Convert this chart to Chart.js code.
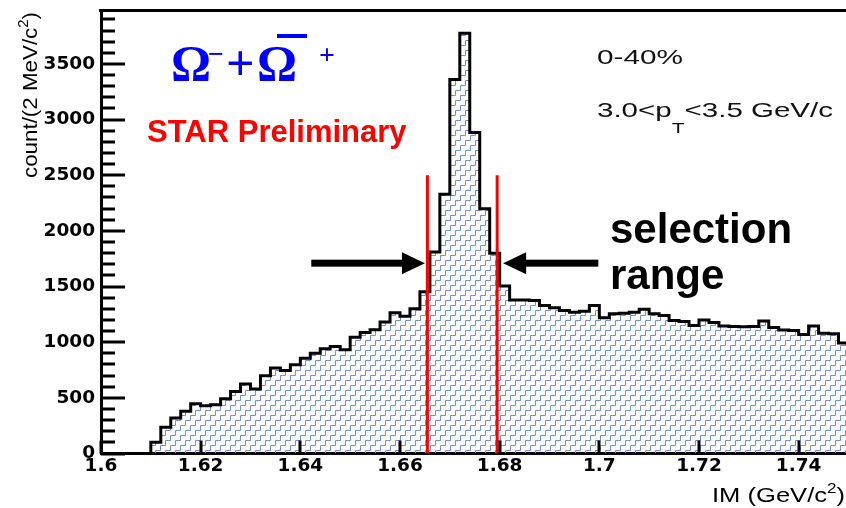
<!DOCTYPE html>
<html>
<head>
<meta charset="utf-8">
<title>Omega invariant mass</title>
<script src="https://cdn.jsdelivr.net/npm/chart.js@4.4.1/dist/chart.umd.min.js"></script>
<style>
  html, body { margin: 0; padding: 0; background: #ffffff; }
  #wrap { width: 846px; height: 508px; position: relative; }
</style>
</head>
<body>
<div id="wrap"><canvas id="c" width="846" height="508"></canvas></div>
<script>
// Invariant-mass histogram: 2 MeV/c^2 bins starting at 1.6 GeV/c^2
const binStart = 1.6;
const binWidth = 0.002;
const counts = [
  0, 0, 0, 0, 0, 101, 236, 320, 379, 448,
  430, 439, 493, 558, 625, 580, 699, 768, 746, 797,
  855, 900, 940, 962, 932, 1045, 1087, 1111, 1182, 1264,
  1234, 1300, 1454, 1810, 2330, 3360, 3775, 2883, 2198, 1798,
  1505, 1380, 1380, 1375, 1330, 1310, 1285, 1270, 1278, 1330,
  1220, 1255, 1260, 1270, 1295, 1255, 1240, 1195, 1186, 1150,
  1200, 1178, 1145, 1140, 1138, 1142, 1190, 1132, 1110, 1106,
  1070, 1145, 1081, 1075, 992
];

// visible window (the frame is cut just short of 1.75)
const xMin = 1.6, xMax = 1.7495;
const yMin = 0, yMax = 3980;
const xTicks = [1.6, 1.62, 1.64, 1.66, 1.68, 1.7, 1.72, 1.74];
const xTickLabels = ['1.6', '1.62', '1.64', '1.66', '1.68', '1.7', '1.72', '1.74'];
const yTicks = [0, 500, 1000, 1500, 2000, 2500, 3000, 3500];
const yMinorTicks = [];
for (let v = 0; v < yMax; v += 100) yMinorTicks.push(v);

// mass window used for the selection
const selectionRange = [1.6655, 1.6795];
const selectionTop = 2500;
// arrows pointing at the window edges: [tail, tip]
const arrowLevel = 1710;
const leftArrow = [1.6422, 1.6650];
const rightArrow = [1.6998, 1.6807];

// histogram outline as stepped points at the bin low edges
const histPoints = counts.map((c, i) => ({ x: binStart + i * binWidth, y: c }));
histPoints.push({ x: binStart + counts.length * binWidth, y: counts[counts.length - 1] });

function makeHatch(color) {
  const s = 10;
  const cv = document.createElement('canvas');
  cv.width = s; cv.height = s;
  const g = cv.getContext('2d');
  g.strokeStyle = color;
  g.lineWidth = 1;
  for (const ox of [-s, 0, s]) {
    for (const oy of [-s, 0, s]) {
      g.beginPath();
      g.moveTo(ox + 0.5, oy + s + 0.5);
      g.lineTo(ox + 0.5, oy + s / 2 + 0.5);
      g.lineTo(ox + s / 2 + 0.5, oy + s / 2 + 0.5);
      g.lineTo(ox + s / 2 + 0.5, oy + 0.5);
      g.lineTo(ox + s + 0.5, oy + 0.5);
      g.stroke();
    }
  }
  return g.createPattern(cv, 'repeat');
}

// draws a sequence of text runs on one baseline, squeezed/stretched to a given width
function drawRuns(ctx, runs, x, y, width, color, angle) {
  ctx.save();
  let natural = 0;
  runs.forEach(r => { ctx.font = r[1]; natural += ctx.measureText(r[0]).width; });
  const sx = width ? width / natural : 1;
  ctx.translate(x, y);
  if (angle) ctx.rotate(angle);
  ctx.scale(sx, 1);
  ctx.fillStyle = color;
  ctx.textBaseline = 'alphabetic';
  ctx.textAlign = 'left';
  let cx = 0;
  runs.forEach(r => {
    ctx.font = r[1];
    ctx.fillText(r[0], cx, r[2] || 0);
    cx += ctx.measureText(r[0]).width;
  });
  ctx.restore();
}

const framePlugin = {
  id: 'frameTicks',
  afterDraw(chart) {
    const ctx = chart.ctx;
    const area = chart.chartArea;
    const xs = chart.scales.x;
    const ys = chart.scales.y;
    ctx.save();
    ctx.fillStyle = '#000000';

    // arrows towards the selection window
    const ay = ys.getPixelForValue(arrowLevel);
    for (const [tail, tip] of [leftArrow, rightArrow]) {
      const p0 = xs.getPixelForValue(tail);
      const p1 = xs.getPixelForValue(tip);
      const dir = Math.sign(p1 - p0);
      const head = 23, half = 11;
      const shaftEnd = p1 - dir * (head - 2);
      ctx.fillRect(Math.min(p0, shaftEnd), ay - 3.5, Math.abs(shaftEnd - p0), 7);
      ctx.beginPath();
      ctx.moveTo(p1, ay);
      ctx.lineTo(p1 - dir * head, ay - half);
      ctx.lineTo(p1 - dir * head, ay + half);
      ctx.closePath();
      ctx.fill();
    }

    // inward tick marks on the y axis: long every 500, short every 100
    for (const v of yMinorTicks) {
      const ty = Math.round(ys.getPixelForValue(v));
      const len = yTicks.includes(v) ? 24 : 14;
      ctx.fillRect(Math.round(area.left), ty - 1.5, len, 3);
    }
    // inward tick marks on the x axis
    for (const v of xTicks) {
      const tx = Math.round(xs.getPixelForValue(v));
      ctx.fillRect(tx - 1.5, area.bottom - 13, 3, 13);
    }
    // top edge of the frame
    ctx.fillRect(area.left - 2, area.top - 1.5, area.right - area.left + 4, 3);

    // particle label
    ctx.fillStyle = '#0000ff';
    ctx.textBaseline = 'alphabetic';
    ctx.textAlign = 'left';
    ctx.font = 'bold 50px "Liberation Serif"';
    ctx.fillText('\u03A9', 171, 80);
    ctx.fillText('+', 226, 80);
    ctx.fillText('\u03A9', 257, 80);
    ctx.font = 'bold 28px "Liberation Serif"';
    ctx.fillText('\u2212', 208, 63);
    ctx.fillText('+', 319, 64);
    ctx.fillRect(277, 34, 30, 4);

    ctx.fillStyle = '#ff0000';
    ctx.font = 'bold 31px "Liberation Sans"';
    ctx.fillText('STAR Preliminary', 147, 142);

    ctx.fillStyle = '#000';
    ctx.font = 'bold 42px "Liberation Sans"';
    ctx.fillText('selection', 610, 243);
    ctx.fillText('range', 610, 289);
    ctx.restore();

    drawRuns(ctx, [['0-40%', '20px "Liberation Sans"']], 597, 63.5, 86, '#111');
    drawRuns(ctx, [
      ['3.0<p', '21px "Liberation Sans"'],
      ['T', '15px "Liberation Sans"', 16],
      ['<3.5 GeV/c', '21px "Liberation Sans"']
    ], 597, 117, 236, '#111');

    // axis titles
    drawRuns(ctx, [
      ['IM (GeV/c', '21px "Liberation Sans"'],
      ['2', '14px "Liberation Sans"', -9],
      [')', '21px "Liberation Sans"']
    ], 712, 502, 133, '#000');
    drawRuns(ctx, [
      ['count/(2 MeV/c', '21px "Liberation Sans"'],
      ['2', '14px "Liberation Sans"', -9],
      [')', '21px "Liberation Sans"']
    ], 37, 178, 166, '#000', -Math.PI / 2);
  }
};

const tickFont = { family: '"DejaVu Sans"', weight: 'bold', size: 18.5 };

new Chart(document.getElementById('c'), {
  type: 'line',
  data: {
    datasets: [
      {
        data: [{ x: selectionRange[0], y: 0 }, { x: selectionRange[0], y: selectionTop }],
        borderColor: '#ff0000', borderWidth: 3, pointRadius: 0, fill: false, order: 0
      },
      {
        data: [{ x: selectionRange[1], y: 0 }, { x: selectionRange[1], y: selectionTop }],
        borderColor: '#ff0000', borderWidth: 3, pointRadius: 0, fill: false, order: 0
      },
      {
        data: histPoints,
        stepped: 'before',
        borderColor: '#000',
        borderWidth: 3,
        borderJoinStyle: 'miter',
        pointRadius: 0,
        fill: 'origin',
        backgroundColor: makeHatch('#6f8fdc'),
        order: 1
      }
    ]
  },
  options: {
    responsive: false,
    devicePixelRatio: 1,
    animation: false,
    events: [],
    layout: { padding: { top: 10.5, right: 0, bottom: 0, left: 0 } },
    plugins: { legend: { display: false }, tooltip: { enabled: false } },
    scales: {
      x: {
        type: 'linear', min: xMin, max: xMax,
        grid: { display: false, drawTicks: false },
        border: { display: true, color: '#000', width: 3 },
        afterBuildTicks: s => { s.ticks = xTicks.map(v => ({ value: v })); },
        afterFit: s => { s.height = 54.5; s.paddingLeft = 0; s.paddingRight = 0; },
        ticks: {
          autoSkip: false, maxRotation: 0, padding: 2, color: '#000', font: tickFont,
          callback: (v, i) => xTickLabels[i]
        }
      },
      y: {
        type: 'linear', min: yMin, max: yMax,
        grid: { display: false, drawTicks: false },
        border: { display: true, color: '#000', width: 3 },
        afterBuildTicks: s => { s.ticks = yTicks.map(v => ({ value: v })); },
        afterFit: s => { s.width = 101; s.paddingTop = 0; s.paddingBottom = 0; },
        ticks: {
          autoSkip: false, padding: 6, color: '#000', font: tickFont,
          callback: v => String(v)
        }
      }
    }
  },
  plugins: [framePlugin]
});
</script>
</body>
</html>
